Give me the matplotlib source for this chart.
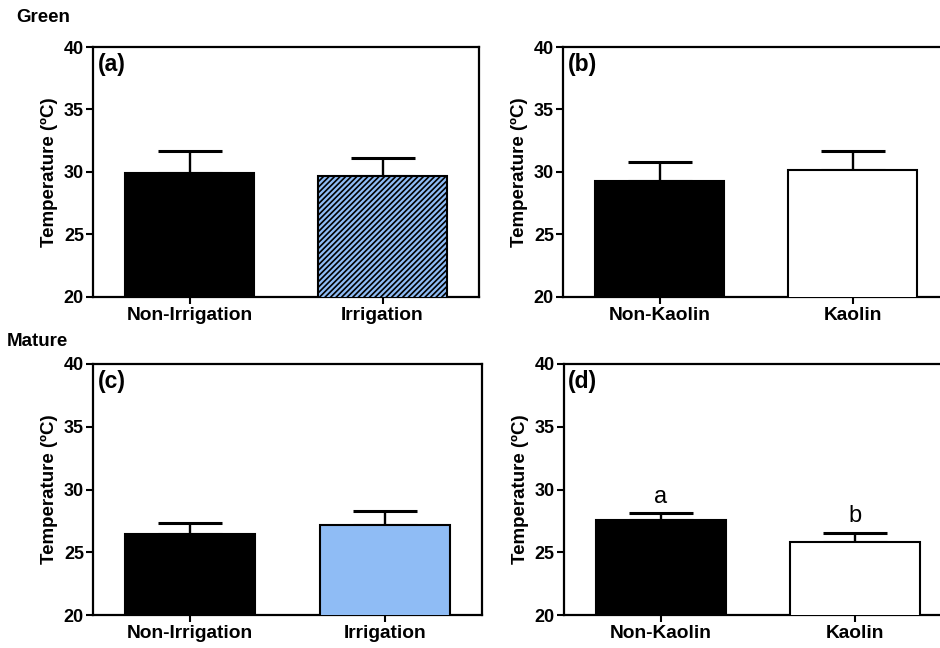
import matplotlib
matplotlib.use("Agg")
import matplotlib.pyplot as plt

plt.rcParams['font.family'] = ['Liberation Sans', 'DejaVu Sans']
plt.rcParams['hatch.color'] = 'black'
plt.rcParams['hatch.linewidth'] = 1.2

# ---- data ----
irr_categories = ['Non-Irrigation', 'Irrigation']
kao_categories = ['Non-Kaolin', 'Kaolin']

green_irr_mean = [29.92, 29.66]
green_irr_err = [1.76, 1.44]
green_kao_mean = [29.28, 30.14]
green_kao_err = [1.50, 1.54]

mature_irr_mean = [26.45, 27.15]
mature_irr_err = [0.90, 1.15]
mature_kao_mean = [27.60, 25.80]
mature_kao_err = [0.50, 0.75]
mature_kao_letters = ['a', 'b']

panel_labels = ['(a)', '(b)', '(c)', '(d)']
row_labels = ['Green', 'Mature']
y_ticks = [20, 25, 30, 35, 40]

blue = '#8FBCF5'

fig = plt.figure(figsize=(9.4, 6.48), dpi=100)

W, H = 940.0, 648.0
positions = [
    (93, 47, 386, 250),
    (563, 47, 386, 250),
    (93, 364, 389, 251),
    (563.5, 364, 389, 251),
]

panels = [
    (irr_categories, green_irr_mean, green_irr_err, ['black', blue], [None, '//////'], None),
    (kao_categories, green_kao_mean, green_kao_err, ['black', 'white'], [None, None], None),
    (irr_categories, mature_irr_mean, mature_irr_err, ['black', blue], [None, None], None),
    (kao_categories, mature_kao_mean, mature_kao_err, ['black', 'white'], [None, None], mature_kao_letters),
]

for i, ((cats, means, errs, colors, hatches, letters), (l, t, w, h)) in enumerate(zip(panels, positions)):
    ax = fig.add_axes([l / W, 1 - (t + h) / H, w / W, h / H])
    x = list(range(len(cats)))
    bars = ax.bar(x, means, width=0.67, color=colors, edgecolor='black',
                  linewidth=1.5, zorder=3)
    for b, hp in zip(bars, hatches):
        if hp:
            b.set_hatch(hp)
    ax.errorbar(x, means, yerr=[[0] * len(errs), errs], fmt='none',
                ecolor='black', elinewidth=1.7, capsize=23, capthick=2.2, zorder=2)
    ax.set_xlim(-0.5, 1.5)
    ax.set_ylim(20, 40)
    ax.set_yticks(y_ticks)
    ax.set_xticks(x)
    ax.set_xticklabels(cats, fontsize=13.8, fontweight='bold')
    ax.set_yticklabels([str(v) for v in y_ticks], fontsize=13, fontweight='bold')
    ax.tick_params(axis='both', direction='out', width=1.5, length=5, pad=1.5)
    ax.tick_params(axis='x', length=5, pad=2)
    for s in ax.spines.values():
        s.set_linewidth(1.6)
    ax.set_ylabel('Temperature (ºC)', fontsize=13.5, fontweight='bold', labelpad=4)
    ax.text(0.012, 0.975, panel_labels[i], transform=ax.transAxes, ha='left',
            va='top', fontsize=16.5, fontweight='bold')
    if letters:
        for xi, m, e, lt in zip(x, means, errs, letters):
            ax.annotate(lt, (xi, m + e), xytext=(0, 4), textcoords='offset points',
                        ha='center', va='bottom', fontsize=17)

fig.text(16 / W, 1 - 18 / H, row_labels[0], ha='left', va='center',
         fontsize=13.5, fontweight='bold')
fig.text(7 / W, 1 - 342 / H, row_labels[1], ha='left', va='center',
         fontsize=13.5, fontweight='bold')

fig.savefig('out.png', dpi=100)
